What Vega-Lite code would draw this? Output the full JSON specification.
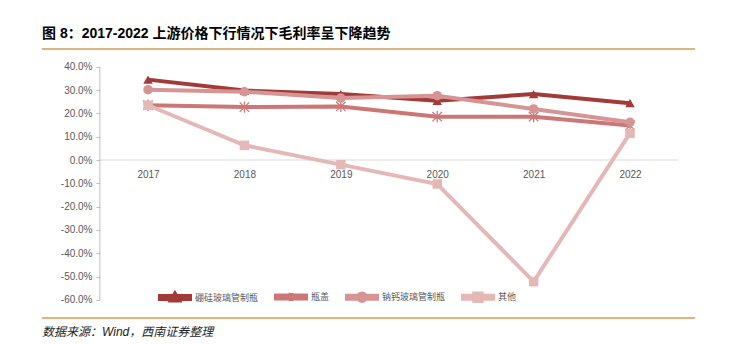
{
  "$schema": "https://vega.github.io/schema/vega-lite/v6.json",
  "width": 653,
  "height": 269,
  "autosize": {"type": "none"},
  "padding": {"left": 42, "top": 49, "right": 49, "bottom": 26},
  "background": "white",
  "config": {
    "view": {"stroke": "#D69A55", "strokeWidth": 1.5, "strokeDash": [653, 269, 653, 269]},
    "axis": {"labelFont": "Liberation Sans", "labelFontSize": 10, "labelColor": "#595959", "grid": false, "title": null},
    "line": {"strokeWidth": 4},
    "point": {"size": 90, "opacity": 1}
  },
  "title": {
    "text": "图 8：2017-2022 上游价格下行情况下毛利率呈下降趋势",
    "anchor": "start",
    "frame": "group",
    "font": "Liberation Sans, Noto Sans CJK SC",
    "fontSize": 14,
    "fontWeight": "bold",
    "color": "#000000",
    "offset": 8
  },
  "data": {
    "values": [
      {"year": 2017, "series": "硼硅玻璃管制瓶", "value": 0.345},
      {"year": 2018, "series": "硼硅玻璃管制瓶", "value": 0.298},
      {"year": 2019, "series": "硼硅玻璃管制瓶", "value": 0.283},
      {"year": 2020, "series": "硼硅玻璃管制瓶", "value": 0.254},
      {"year": 2021, "series": "硼硅玻璃管制瓶", "value": 0.283},
      {"year": 2022, "series": "硼硅玻璃管制瓶", "value": 0.244},
      {"year": 2017, "series": "瓶盖", "value": 0.235},
      {"year": 2018, "series": "瓶盖", "value": 0.227},
      {"year": 2019, "series": "瓶盖", "value": 0.230},
      {"year": 2020, "series": "瓶盖", "value": 0.186},
      {"year": 2021, "series": "瓶盖", "value": 0.186},
      {"year": 2022, "series": "瓶盖", "value": 0.148},
      {"year": 2017, "series": "钠钙玻璃管制瓶", "value": 0.302},
      {"year": 2018, "series": "钠钙玻璃管制瓶", "value": 0.293},
      {"year": 2019, "series": "钠钙玻璃管制瓶", "value": 0.266},
      {"year": 2020, "series": "钠钙玻璃管制瓶", "value": 0.276},
      {"year": 2021, "series": "钠钙玻璃管制瓶", "value": 0.219},
      {"year": 2022, "series": "钠钙玻璃管制瓶", "value": 0.162},
      {"year": 2017, "series": "其他", "value": 0.235},
      {"year": 2018, "series": "其他", "value": 0.063},
      {"year": 2019, "series": "其他", "value": -0.020},
      {"year": 2020, "series": "其他", "value": -0.103},
      {"year": 2021, "series": "其他", "value": -0.522},
      {"year": 2022, "series": "其他", "value": 0.115}
    ]
  },
  "layer": [
    {
      "data": {"values": [{}]},
      "mark": {"type": "rule", "color": "#D9D9D9", "strokeWidth": 1},
      "encoding": {
        "x": {"datum": 2016.5, "type": "quantitative",
          "scale": {"domain": [2015.9, 2022.674], "nice": false, "zero": false},
          "axis": {"values": [2017, 2018, 2019, 2020, 2021, 2022], "tickCount": 20, "format": "d", "offset": -158, "domain": false, "ticks": false, "labelPadding": 9}},
        "x2": {"datum": 2022.5},
        "y": {"datum": 0, "type": "quantitative",
          "scale": {"domain": [-0.6781, 0.4764], "nice": false, "zero": false},
          "axis": {"values": [-0.6, -0.5, -0.4, -0.3, -0.2, -0.1, 0, 0.1, 0.2, 0.3, 0.4], "tickCount": 20, "format": ".1%", "labelExpr": "replace(datum.label, '−', '-')", "labelOverlap": false, "offset": -58, "domain": false, "tickColor": "#BFBFBF", "tickSize": 4, "labelPadding": 4}}
      }
    },
    {
      "data": {"values": [{}]},
      "mark": {"type": "rule", "color": "#BFBFBF", "strokeWidth": 1},
      "encoding": {
        "x": {"datum": 2016.5, "type": "quantitative"},
        "y": {"datum": -0.6, "type": "quantitative"},
        "y2": {"datum": 0.4}
      }
    },
    {
      "transform": [{"filter": "false"}],
      "mark": {"type": "point", "filled": true},
      "encoding": {
        "x": {"field": "year", "type": "quantitative"},
        "y": {"field": "value", "type": "quantitative"},
        "color": {
          "field": "series", "type": "nominal",
          "scale": {"domain": ["硼硅玻璃管制瓶", "瓶盖", "钠钙玻璃管制瓶", "其他"], "range": ["#A33A3A", "#CC7676", "#D69494", "#E5B8B8"]},
          "legend": {
            "orient": "none", "legendX": 126, "legendY": 241, "direction": "horizontal", "title": null, "padding": 0,
            "symbolSize": 100, "symbolStrokeWidth": 0.8, "symbolOpacity": 1, "labelOffset": 13, "columnPadding": 9,
            "labelFont": "Noto Sans CJK SC", "labelFontSize": 9, "labelColor": "#595959"
          }
        },
        "shape": {
          "field": "series", "type": "nominal",
          "scale": {"domain": ["硼硅玻璃管制瓶", "瓶盖", "钠钙玻璃管制瓶", "其他"], "range": [
            "M-3,-0.3H3V0.3H-3Z M0,-0.75L0.8,0.6H-0.8Z",
            "M-3,-0.3H3V0.3H-3Z M-0.6,-0.6L0.6,0.6M-0.6,0.6L0.6,-0.6M0,-0.8V0.8",
            "M-3,-0.3H3V0.3H-3Z M0.75,0A0.75,0.75 0 1,1 -0.75,0A0.75,0.75 0 1,1 0.75,0Z",
            "M-3,-0.3H3V0.3H-3Z M-0.75,-0.75H0.75V0.75H-0.75Z"]},
          "legend": {
            "orient": "none", "legendX": 126, "legendY": 241, "direction": "horizontal", "title": null, "padding": 0,
            "symbolSize": 100, "symbolStrokeWidth": 0.8, "symbolOpacity": 1, "labelOffset": 13, "columnPadding": 9,
            "labelFont": "Noto Sans CJK SC", "labelFontSize": 9, "labelColor": "#595959"
          }
        }
      }
    },
    {
      "transform": [{"filter": {"field": "series", "equal": "硼硅玻璃管制瓶"}}],
      "mark": {"type": "line"},
      "encoding": {
        "x": {"field": "year", "type": "quantitative"},
        "y": {"field": "value", "type": "quantitative"},
        "color": {"field": "series", "type": "nominal"}
      }
    },
    {
      "transform": [{"filter": {"field": "series", "equal": "硼硅玻璃管制瓶"}}],
      "mark": {"type": "point", "shape": "triangle-up", "filled": true},
      "encoding": {
        "x": {"field": "year", "type": "quantitative"},
        "y": {"field": "value", "type": "quantitative"},
        "color": {"field": "series", "type": "nominal"}
      }
    },
    {
      "transform": [{"filter": {"field": "series", "equal": "瓶盖"}}],
      "mark": {"type": "line"},
      "encoding": {
        "x": {"field": "year", "type": "quantitative"},
        "y": {"field": "value", "type": "quantitative"},
        "color": {"field": "series", "type": "nominal"}
      }
    },
    {
      "transform": [{"filter": {"field": "series", "equal": "瓶盖"}}],
      "mark": {"type": "point", "shape": "M-1,-1L1,1M-1,1L1,-1M0,-1.2V1.2", "filled": false, "strokeWidth": 1.3},
      "encoding": {
        "x": {"field": "year", "type": "quantitative"},
        "y": {"field": "value", "type": "quantitative"},
        "color": {"field": "series", "type": "nominal"}
      }
    },
    {
      "transform": [{"filter": {"field": "series", "equal": "钠钙玻璃管制瓶"}}],
      "mark": {"type": "line"},
      "encoding": {
        "x": {"field": "year", "type": "quantitative"},
        "y": {"field": "value", "type": "quantitative"},
        "color": {"field": "series", "type": "nominal"}
      }
    },
    {
      "transform": [{"filter": {"field": "series", "equal": "钠钙玻璃管制瓶"}}],
      "mark": {"type": "point", "shape": "circle", "filled": true},
      "encoding": {
        "x": {"field": "year", "type": "quantitative"},
        "y": {"field": "value", "type": "quantitative"},
        "color": {"field": "series", "type": "nominal"}
      }
    },
    {
      "transform": [{"filter": {"field": "series", "equal": "其他"}}],
      "mark": {"type": "line"},
      "encoding": {
        "x": {"field": "year", "type": "quantitative"},
        "y": {"field": "value", "type": "quantitative"},
        "color": {"field": "series", "type": "nominal"}
      }
    },
    {
      "transform": [{"filter": {"field": "series", "equal": "其他"}}],
      "mark": {"type": "point", "shape": "square", "filled": true},
      "encoding": {
        "x": {"field": "year", "type": "quantitative"},
        "y": {"field": "value", "type": "quantitative"},
        "color": {"field": "series", "type": "nominal"}
      }
    },
    {
      "data": {"values": [{}]},
      "mark": {"type": "text", "align": "left", "baseline": "middle", "fontStyle": "italic", "fontWeight": "normal", "fontSize": 12, "font": "Liberation Sans, Noto Sans CJK SC", "color": "#222222"},
      "encoding": {
        "x": {"datum": 2015.9, "type": "quantitative"},
        "y": {"datum": -0.738, "type": "quantitative"},
        "text": {"value": "数据来源：Wind，西南证券整理"}
      }
    }
  ]
}
